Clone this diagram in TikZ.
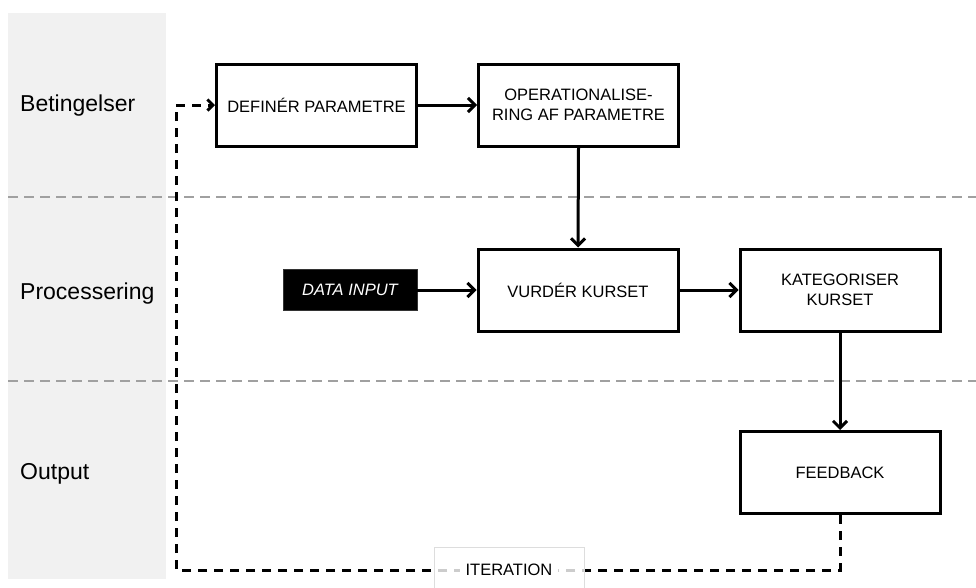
\documentclass[tikz,border=0pt]{standalone}
\usepackage{fontspec}
\setmainfont{Liberation Sans}
\usetikzlibrary{arrows.meta}

\definecolor{lanegray}{HTML}{F1F1F1}
\definecolor{sepgray}{HTML}{A0A0A0}
\definecolor{iterborder}{HTML}{DDDDDD}

\tikzset{
  stepbox/.style={draw=black, line width=3pt, fill=white, minimum width=200pt,
    minimum height=82pt, inner sep=0pt, align=center,
    font=\fontsize{16.5}{20}\selectfont},
  inputbox/.style={draw=black!80, line width=0.6pt, fill=black, text=white,
    minimum width=134pt, minimum height=41pt, inner sep=0pt,
    font=\fontsize{16.5}{20}\selectfont\itshape},
  lanelabel/.style={anchor=west, inner sep=0pt, font=\fontsize{23}{26}\selectfont},
  sepline/.style={draw=sepgray, line width=1.5pt, dash pattern=on 10pt off 6pt},
  flow/.style={draw=black, line width=3pt,
    -{Straight Barb[length=7pt,width=14pt]}},
  loopline/.style={draw=black, line width=3pt, dash pattern=on 9pt off 7pt,
    -{Straight Barb[length=5.5pt,width=11pt]}},
  iterbox/.style={draw=iterborder, line width=0.8pt, fill=white, fill opacity=0.8,
    minimum width=150pt, minimum height=50pt, inner sep=0pt},
  itertext/.style={fill=white, inner xsep=6pt, inner ysep=3pt,
    font=\fontsize{16.5}{20}\selectfont},
}

\begin{document}
\begin{tikzpicture}[x=1pt, y=-1pt]
  \useasboundingbox (0,0) rectangle (976,587);
  \clip (0,0) rectangle (976,587);

  % label column
  \fill[lanegray] (8,13) rectangle (166,579);

  % lane separators
  \draw[sepline] (8,197) -- (976,197);
  \draw[sepline] (8,381) -- (976,381);

  % lane names
  \node[lanelabel] (lbl1) at (20,106) {Betingelser};
  \node[lanelabel] (lbl2) at (20,294) {Processering};
  \node[lanelabel] (lbl3) at (20,474) {Output};

  % process steps
  \node[stepbox] (def)  at (316.5,105) {DEFINÉR PARAMETRE};
  \node[stepbox] (oper) at (578.5,105) {OPERATIONALISE-\\RING AF PARAMETRE};
  \node[stepbox] (vurd) at (578,290) {VURDÉR KURSET};
  \node[stepbox] (kat)  at (840,290) {KATEGORISER\\KURSET};
  \node[stepbox] (feed) at (840,472.5) {FEEDBACK};
  \node[inputbox] (data) at (350,290) {DATA INPUT};

  % main flow
  \draw[flow] (def.east) -- (oper.west);
  \draw[flow] (oper.south) -- (vurd.north);
  \draw[flow] (data.east) -- (vurd.west);
  \draw[flow] (vurd.east) -- (kat.west);
  \draw[flow] (kat.south) -- (feed.north);

  % iteration loop back to the start
  \coordinate (loopL) at (176,570);
  \draw[loopline] (feed.south) |- (loopL) |- (def.west);
  \node[iterbox] (iter) at (509,572) {};
  \node[itertext] (itertext) at (509,570) {ITERATION};
\end{tikzpicture}
\end{document}
